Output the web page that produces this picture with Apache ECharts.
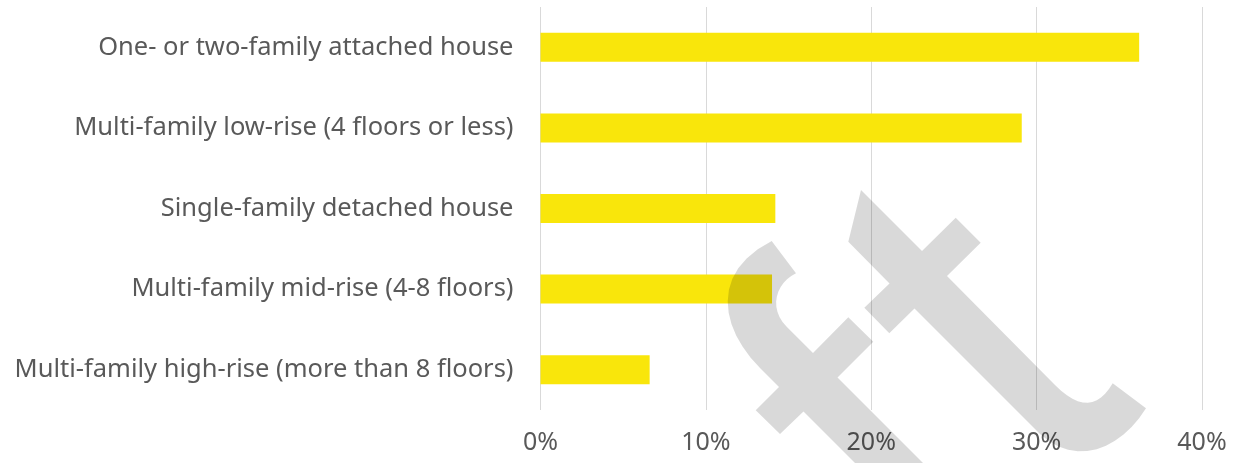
<!DOCTYPE html>
<html>
<head>
<meta charset="utf-8">
<script src="https://cdn.jsdelivr.net/npm/echarts@6/dist/echarts.min.js"></script>
<style>
    html, body { margin: 0; padding: 0; background: #fff; }
    #chart { width: 1240px; height: 463px; }
</style>
</head>
<body>
<div id="chart"></div>
<script>
// 分类
var categories = [
    'One- or two-family attached house',
    'Multi-family low-rise (4 floors or less)',
    'Single-family detached house',
    'Multi-family mid-rise (4-8 floors)',
    'Multi-family high-rise (more than 8 floors)'
];
// 数值 (%)
var shares = [36.2, 29.1, 14.2, 14.0, 6.6];
var xTicks = [0, 10, 20, 30, 40];

// 三次贝塞尔取点 (水印曲线用)
function curve(p0, c1, c2, p3) {
    var pts = [];
    for (var i = 1; i < 12; i++) {
        var t = i / 12, u = 1 - t;
        pts.push([
            u * u * u * p0[0] + 3 * u * u * t * c1[0] + 3 * u * t * t * c2[0] + t * t * t * p3[0],
            u * u * u * p0[1] + 3 * u * u * t * c1[1] + 3 * u * t * t * c2[1] + t * t * t * p3[1]
        ]);
    }
    return pts;
}

// 水印 "ft"
var markF = [].concat(
    [[771.7, 241], [796, 273.3]],
    curve([796, 273.3], [776, 283], [768, 308], [786.7, 326.7]),
    [[786.7, 326.7], [813, 353], [848.3, 317.3], [873.3, 341.7], [837.5, 377.5], [960, 500], [892, 500],
     [803.5, 411.5], [780, 434], [755.7, 410.3], [779, 387], [760, 368]],
    curve([760, 368], [720, 328], [710, 272], [771.7, 241])
);
var markT = [].concat(
    [[861, 190], [922, 251], [955.7, 217.7], [980.7, 242.7], [947, 276], [1055, 385]],
    curve([1055, 385], [1080, 410], [1098, 408], [1112.7, 383.3]),
    [[1112.7, 383.3], [1146, 408.3]],
    curve([1146, 408.3], [1120, 450], [1076, 467], [1040, 434]),
    [[1040, 434], [914.5, 308.5], [889.3, 333.3], [864.3, 307.7], [889.5, 283.5], [848.3, 241.7]]
);

var myChart = echarts.init(document.getElementById('chart'));
var font = 'Noto Sans';
option = {
    animation: false,
    grid: {
        left: 540.5,
        right: 38,
        top: 7,
        bottom: 53
    },
    xAxis: {
        type: 'value',
        min: 0,
        max: 40,
        interval: 10,
        axisLine: { show: false },
        axisTick: { show: false },
        splitLine: { lineStyle: { color: '#d9d9d9', width: 1 } },
        axisLabel: {
            margin: 20,
            color: '#595959',
            fontFamily: font,
            fontSize: 25,
            formatter: function(v) {
                return xTicks.indexOf(v) >= 0 ? v + '%' : '';
            }
        }
    },
    yAxis: {
        type: 'category',
        inverse: true,
        data: categories,
        axisLine: { show: false },
        axisTick: { show: false },
        axisLabel: {
            margin: 27,
            color: '#595959',
            fontFamily: font,
            fontSize: 25.5
        }
    },
    series: [{
        type: 'bar',
        data: shares,
        barWidth: 29,
        itemStyle: { color: '#f9e60b' }
    }],
    graphic: [{
        type: 'polygon',
        z: 100,
        silent: true,
        shape: { points: markF },
        style: { fill: 'rgba(0,0,0,0.15)' }
    }, {
        type: 'polygon',
        z: 100,
        silent: true,
        shape: { points: markT },
        style: { fill: 'rgba(0,0,0,0.15)' }
    }]
};
myChart.setOption(option);
</script>
</body>
</html>
